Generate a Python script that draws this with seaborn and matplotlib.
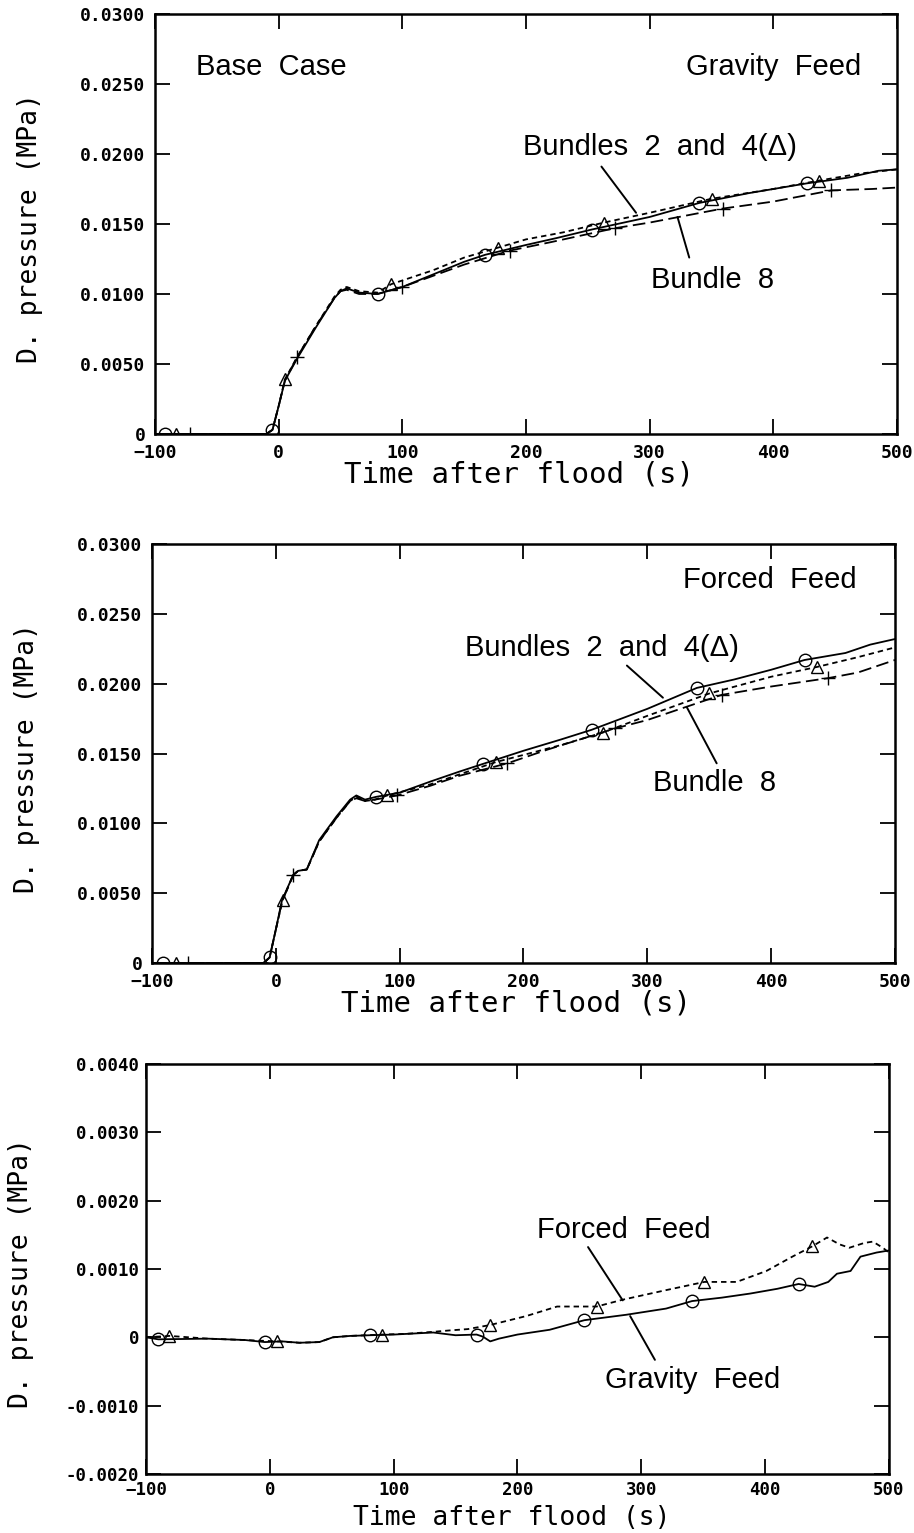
import matplotlib
matplotlib.use("Agg")
import matplotlib.pyplot as plt
import seaborn as sns
from matplotlib.ticker import FuncFormatter

# ---------------------------------------------------------------- data ----
# Panel 1: base case, gravity feed
P1_B2_T = [-100, -92, -50, -10, -5, 0, 5, 15, 30, 45, 50, 55, 65, 80, 100, 125, 150, 167, 200, 225, 253, 300, 340, 380, 427, 460, 485, 500]
P1_B2_Y = [0, 0, 0, 0, 0.0003, 0.0020, 0.0038, 0.0054, 0.0076, 0.0097, 0.0102, 0.0104, 0.0101, 0.0100, 0.0105, 0.0114, 0.0123, 0.0128, 0.0135, 0.0140, 0.0146, 0.0155, 0.0165, 0.0172, 0.0179, 0.0183, 0.0188, 0.0189]
P1_B2_MARK = [-92, -5, 80, 167, 253, 340, 427]

P1_B4_T = [-100, -83, -50, -10, -5, 0, 5, 15, 30, 45, 50, 55, 65, 80, 91, 125, 150, 177, 200, 230, 263, 300, 350, 400, 437, 470, 500]
P1_B4_Y = [0, 0, 0, 0, 0.0003, 0.0020, 0.0039, 0.0055, 0.0077, 0.0098, 0.0103, 0.0105, 0.0102, 0.0101, 0.0107, 0.0117, 0.0126, 0.0133, 0.0139, 0.0144, 0.0151, 0.0158, 0.0168, 0.0175, 0.0181, 0.0186, 0.0189]
P1_B4_MARK = [-83, 5, 91, 177, 263, 350, 437]

P1_B8_T = [-100, -72, -50, -10, -5, 0, 5, 15, 30, 45, 50, 55, 65, 80, 100, 125, 150, 187, 220, 272, 300, 359, 400, 447, 480, 500]
P1_B8_Y = [0, 0, 0, 0, 0.0003, 0.0020, 0.0038, 0.0055, 0.0077, 0.0097, 0.0102, 0.0103, 0.0100, 0.0100, 0.0105, 0.0113, 0.0121, 0.0131, 0.0137, 0.0147, 0.0151, 0.0161, 0.0166, 0.0174, 0.0175, 0.0176]
P1_B8_MARK = [-72, 15, 100, 187, 272, 359, 447]

# Panel 2: forced feed
P2_B2_T = [-100, -91, -50, -10, -5, 0, 5, 14, 18, 25, 35, 49, 60, 65, 72, 81, 100, 125, 148, 167, 200, 230, 255, 300, 340, 370, 400, 427, 460, 480, 500]
P2_B2_Y = [0, 0, 0, 0, 0.0004, 0.0024, 0.0045, 0.0063, 0.0066, 0.0067, 0.0088, 0.0105, 0.0117, 0.0120, 0.0117, 0.0119, 0.0122, 0.0130, 0.0137, 0.01425, 0.0152, 0.0160, 0.0167, 0.0182, 0.0197, 0.0203, 0.0210, 0.0217, 0.0222, 0.0228, 0.0232]
P2_B2_MARK = [-91, -5, 81, 167, 255, 340, 427]

P2_B4_T = [-100, -81, -50, -10, -5, 0, 5.5, 14, 18, 25, 35, 49, 60, 65, 72, 80, 90, 125, 148, 178, 200, 230, 264, 300, 350, 400, 437, 470, 500]
P2_B4_Y = [0, 0, 0, 0, 0.0004, 0.0024, 0.0045, 0.0063, 0.0066, 0.0067, 0.0087, 0.0104, 0.0116, 0.0119, 0.0116, 0.0117, 0.0120, 0.0128, 0.0135, 0.0144, 0.0149, 0.0156, 0.0165, 0.0177, 0.0193, 0.0205, 0.0212, 0.0219, 0.0226]
P2_B4_MARK = [-81, 5.5, 90, 178, 264, 350, 437]

P2_B8_T = [-100, -71, -50, -10, -5, 0, 5, 14, 18, 25, 35, 49, 60, 65, 72, 80, 98, 125, 148, 187, 220, 274, 300, 360, 400, 446, 470, 500]
P2_B8_Y = [0, 0, 0, 0, 0.0004, 0.0024, 0.0044, 0.0063, 0.0066, 0.0067, 0.0087, 0.0104, 0.0116, 0.0118, 0.0116, 0.0117, 0.0120, 0.0127, 0.0134, 0.0143, 0.0153, 0.0168, 0.0174, 0.0192, 0.0198, 0.0204, 0.0208, 0.0217]
P2_B8_MARK = [-71, 14, 98, 187, 274, 360, 446]

# Panel 3: difference, gravity vs forced feed
P3_GRAV_T = [-100, -90, -50, -20, -4, 10, 24, 40, 51, 65, 81, 100, 132, 150, 167, 172, 178, 185, 200, 226, 254, 288, 320, 341, 365, 388, 410, 427, 440, 451, 458, 469, 477, 490, 500]
P3_GRAV_Y = [0, -0.00003, -0.00002, -0.00004, -0.00007, -0.00006, -0.00008, -0.00007, 0.0, 0.00002, 0.00003, 0.00004, 0.00007, 0.00003, 0.00004, 0.00001, -0.00006, -0.00002, 0.00004, 0.00011, 0.00025, 0.00033, 0.00042, 0.00053, 0.00058, 0.00064, 0.00071, 0.00078, 0.00074, 0.00081, 0.00093, 0.00097, 0.00118, 0.00124, 0.00127]
P3_GRAV_MARK = [-90, -4, 81, 167, 254, 341, 427]

P3_FORC_T = [-100, -81, -50, -20, 6, 24, 40, 51, 65, 91, 110, 132, 145, 160, 178, 207, 232, 264, 285, 320, 351, 377, 401, 422, 438, 450, 460, 468, 480, 487, 495, 500]
P3_FORC_Y = [0, 0.00002, -0.00002, -0.00004, -0.00006, -0.00008, -0.00007, 0.0, 0.00002, 0.00004, 0.00005, 0.00008, 0.0001, 0.00012, 0.00018, 0.00031, 0.00045, 0.00045, 0.00055, 0.00069, 0.00081, 0.00081, 0.00097, 0.00118, 0.00133, 0.00146, 0.00136, 0.00131, 0.00138, 0.0014, 0.00131, 0.00124]
P3_FORC_MARK = [-81, 6, 91, 178, 264, 351, 438]

X_TICKS = [-100, 0, 100, 200, 300, 400, 500]
Y_TICKS_TOP = [0, 0.005, 0.010, 0.015, 0.020, 0.025, 0.030]
Y_TICKS_BOT = [-0.002, -0.001, 0, 0.001, 0.002, 0.003, 0.004]

# ---------------------------------------------------------------- style ---
sns.set_theme(style="ticks")
plt.rcParams['font.family'] = ['DejaVu Sans']
NARROW = ['Liberation Sans Narrow', 'Liberation Sans', 'DejaVu Sans']
MONO = ['DejaVu Sans Mono']

SOLID = '-'
SHORT = (0, (3.0, 2.2))
LONG = (0, (7.0, 3.0))

fig = plt.figure(figsize=(9.14, 15.33), dpi=100)
fig.patch.set_facecolor('white')

ax1 = fig.add_axes([0.1696, 0.7169, 0.8118, 0.2740])
ax2 = fig.add_axes([0.1663, 0.3718, 0.8129, 0.2733])
ax3 = fig.add_axes([0.1597, 0.0385, 0.8129, 0.2675])


def draw(ax, t, y, marks, ls, marker, ms):
    idx = [i for i, v in enumerate(t) if v in marks]
    sns.lineplot(x=t, y=y, ax=ax, estimator=None, color='black',
                 linestyle=ls, linewidth=1.3, marker=marker, markevery=idx,
                 markersize=ms, markerfacecolor='none', markeredgecolor='black',
                 markeredgewidth=1.0)


def y_fmt(v, _):
    if abs(v) < 1e-12:
        return '0'
    return f'{v:.4f}'


def style_axes(ax, yticks, ylim, tick_size=13, tick_pad=7):
    ax.set_facecolor('white')
    ax.set_xlim(-100, 500)
    ax.set_ylim(*ylim)
    ax.set_xticks(X_TICKS)
    ax.set_yticks(yticks)
    ax.yaxis.set_major_formatter(FuncFormatter(y_fmt))
    ax.tick_params(direction='in', length=11, width=1.3, top=True, right=True,
                   colors='black', labelsize=tick_size, pad=tick_pad)
    for lab in ax.get_xticklabels() + ax.get_yticklabels():
        lab.set_family(MONO)
        lab.set_fontweight('bold')
    for s in ax.spines.values():
        s.set_linewidth(1.8)
        s.set_color('black')
    ax.set_ylabel('D. pressure (MPa)', family=MONO, fontsize=19, color='black')
    ax.yaxis.set_label_coords(-0.151, 0.49)


def leader(ax, p0, p1):
    ax.annotate('', xy=p1, xytext=p0,
                arrowprops=dict(arrowstyle='-', color='black', lw=1.4,
                                shrinkA=0, shrinkB=0))


TXT = dict(family=NARROW, fontsize=21, color='black')
XLAB = 'Time after flood (s)'

# ---- panel 1
draw(ax1, P1_B8_T, P1_B8_Y, P1_B8_MARK, LONG, '+', 10)
draw(ax1, P1_B4_T, P1_B4_Y, P1_B4_MARK, SHORT, '^', 8)
draw(ax1, P1_B2_T, P1_B2_Y, P1_B2_MARK, SOLID, 'o', 9)
style_axes(ax1, Y_TICKS_TOP, (0, 0.030))
ax1.set_xlabel(XLAB, family=MONO, fontsize=21, color='black')
ax1.xaxis.set_label_coords(0.49, -0.064)
ax1.text(-67, 0.0262, 'Base  Case', ha='left', va='center', **TXT)
ax1.text(471, 0.0262, 'Gravity  Feed', ha='right', va='center', **TXT)
ax1.text(308, 0.0205, 'Bundles  2  and  4(Δ)', ha='center', va='center', **TXT)
ax1.text(351, 0.0110, 'Bundle  8', ha='center', va='center', **TXT)
leader(ax1, (261, 0.0191), (289, 0.0158))
leader(ax1, (332, 0.0126), (322.5, 0.0155))

# ---- panel 2
draw(ax2, P2_B8_T, P2_B8_Y, P2_B8_MARK, LONG, '+', 10)
draw(ax2, P2_B4_T, P2_B4_Y, P2_B4_MARK, SHORT, '^', 8)
draw(ax2, P2_B2_T, P2_B2_Y, P2_B2_MARK, SOLID, 'o', 9)
style_axes(ax2, Y_TICKS_TOP, (0, 0.030))
ax2.set_xlabel(XLAB, family=MONO, fontsize=21, color='black')
ax2.xaxis.set_label_coords(0.49, -0.064)
ax2.text(469, 0.0274, 'Forced  Feed', ha='right', va='center', **TXT)
ax2.text(263, 0.02255, 'Bundles  2  and  4(Δ)', ha='center', va='center', **TXT)
ax2.text(354.6, 0.0129, 'Bundle  8', ha='center', va='center', **TXT)
leader(ax2, (283.5, 0.0213), (312.6, 0.0190))
leader(ax2, (356, 0.0143), (332, 0.0183))

# ---- panel 3
draw(ax3, P3_FORC_T, P3_FORC_Y, P3_FORC_MARK, SHORT, '^', 8)
draw(ax3, P3_GRAV_T, P3_GRAV_Y, P3_GRAV_MARK, SOLID, 'o', 9)
style_axes(ax3, Y_TICKS_BOT, (-0.002, 0.004), tick_size=12.5, tick_pad=5)
# x label of the last panel sits on the figure's bottom edge
fig.text(0.560, 0.0015, XLAB, family=MONO, fontsize=19, color='black',
         ha='center', va='bottom')
ax3.text(286, 0.00157, 'Forced  Feed', ha='center', va='center', **TXT)
ax3.text(341.7, -0.00062, 'Gravity  Feed', ha='center', va='center', **TXT)
leader(ax3, (257, 0.00132), (285, 0.00054))
leader(ax3, (291, 0.00031), (311, -0.00033))

fig.savefig('out.png', dpi=100, facecolor='white')
